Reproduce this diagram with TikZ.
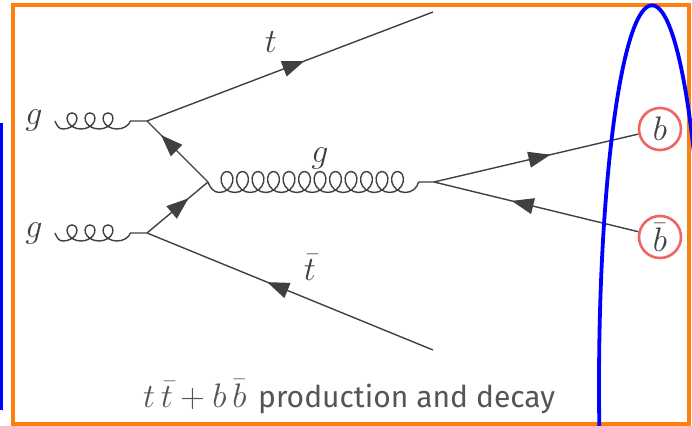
\RequirePackage{fix-cm}
\documentclass[tikz,border=0pt]{standalone}
\usepackage{fontspec}
\newfontfamily\capfont{Fira Sans}
\usetikzlibrary{arrows.meta,decorations.markings}
\definecolor{lineg}{RGB}{64,64,64}
\definecolor{orfr}{RGB}{255,127,14}
\definecolor{circ}{RGB}{240,100,100}
\definecolor{capg}{RGB}{85,85,85}
% coil: #1 x of first bottom, #2 centre y, #3 loops, #4 period, #5 loop size, #6 amplitude
\newcommand\gcoil[6]{%
  \foreach \i in {1,...,#3}{%
    .. controls ({#1+(\i-1)*#4+0.555*#5+#4/12},{#2+#6}) and ({#1+(\i-1)*#4+#5+#4/6},{#2+0.555*#6}) .. ({#1+(\i-1)*#4+#5+#4/4},{#2})
    .. controls ({#1+(\i-1)*#4+#5+#4/3},{#2-0.555*#6}) and ({#1+(\i-1)*#4+0.555*#5+5*#4/12},{#2-#6}) .. ({#1+(\i-1)*#4+#4/2},{#2-#6})
    .. controls ({#1+(\i-1)*#4-0.555*#5+7*#4/12},{#2-#6}) and ({#1+(\i-1)*#4-#5+2*#4/3},{#2-0.555*#6}) .. ({#1+(\i-1)*#4-#5+3*#4/4},{#2})
    .. controls ({#1+(\i-1)*#4-#5+5*#4/6},{#2+0.555*#6}) and ({#1+(\i-1)*#4-0.555*#5+11*#4/12},{#2+#6}) .. ({#1+\i*#4},{#2+#6})
  }
  .. controls ({#1+#3*#4+0.555*#5+#4/12},{#2+#6}) and ({#1+#3*#4+#5+#4/6},{#2+0.555*#6}) .. ({#1+#3*#4+#5+#4/4},{#2})
}
\begin{document}
\begin{tikzpicture}[x=1pt,y=-1pt,
  fermion/.style={draw=lineg, line width=1.4pt},
  arr/.style={postaction={decorate, decoration={markings,
      mark=at position #1 with {\arrow{Triangle[length=22pt,width=16pt]}}}}},
  gluon/.style={draw=lineg, line width=1.4pt, line join=round},
  lab/.style={text=lineg, inner sep=0pt, font=\fontsize{34}{40}\selectfont, anchor=base},
  bcirc/.style={circle, draw=circ, line width=2.6pt, fill=white, minimum size=42pt,
      inner sep=0pt, text=lineg, font=\fontsize{34}{40}\selectfont}]
\useasboundingbox (0,0) rectangle (692,425);
\clip (0,0) rectangle (692,425);
% frames
\draw[orfr, line width=3.3pt] (13,5) rectangle (689,424);
\draw[blue, line width=2.7pt] (-20,124.7) rectangle (1.5,408.7);
% vertices
\coordinate (v1) at (147,121);
\coordinate (v2) at (147,233);
\coordinate (v3) at (208,182);
\coordinate (v4) at (434,182);
\coordinate (tend) at (433,12);
\coordinate (tbend) at (433,350);
\coordinate (g1s) at (55,121);
\coordinate (g2s) at (55,233);
\node[bcirc] (b) at (660,129) {$b$};
\node[bcirc] (bb) at (660,237) {$\bar b$};
% fermion lines
\draw[fermion, arr=0.55] (v1) -- (tend);
\draw[fermion, arr=0.58] (tbend) -- (v2);
\draw[fermion, arr=0.68] (v2) -- (v3);
\draw[fermion, arr=0.77] (v3) -- (v1);
\draw[fermion, arr=0.57] (v4) -- (b);
\draw[fermion, arr=0.62] (bb) -- (v4);
% gluons
\draw[gluon] (g1s) .. controls (57,126) and (59,129) .. (63,129)
   \gcoil{63}{121}{3}{18}{9}{8} -- (v1);
\draw[gluon] (g2s) .. controls (57,238) and (59,241) .. (63,241)
   \gcoil{63}{233}{3}{18}{9}{8} -- (v2);
\draw[gluon] (v3) .. controls (210,188) and (214,192.5) .. (219.25,192.5)
   \gcoil{219.25}{182}{12}{15.5}{9.5}{10.5} -- (v4);
% labels
\node[lab] (lg1) at (34,124) {$g$};
\node[lab] (lg2) at (34,237) {$g$};
\node[lab] (lt) at (271,53) {$t$};
\node[lab] (lg3) at (320,162) {$g$};
\node[lab] (ltb) at (310,280) {$\bar t$};
\node[anchor=base west, inner sep=0pt, text=capg, font=\fontsize{34}{40}\selectfont] (capm) at (143,407)
  {$t\,\bar t+b\,\bar b$};
\node[anchor=base west, inner sep=0pt, text=capg, font=\capfont\fontsize{30}{36}\selectfont] (capt) at (258,407)
  {production and decay};
% ellipse
\draw[blue, line width=3.8pt] (652,385.3) ellipse [x radius=53, y radius=380];
\end{tikzpicture}
\end{document}
